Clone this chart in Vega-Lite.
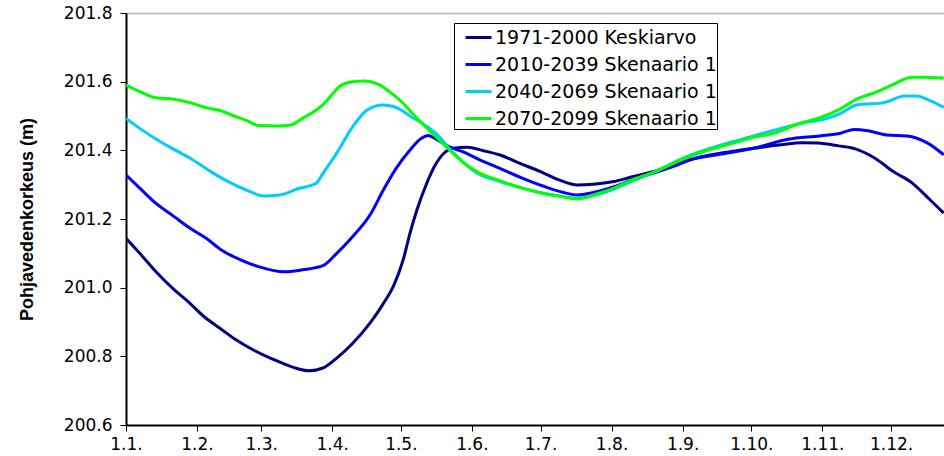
{
  "$schema": "https://vega.github.io/schema/vega-lite/v6.json",
  "width": 818,
  "height": 412,
  "autosize": {"type": "none"},
  "padding": {"left": 126, "top": 13, "right": 0, "bottom": 31},
  "background": "white",
  "config": {"view": {"stroke": null}},
  "data": {"values": [
    {"s":"1971-2000 Keskiarvo","d":"2001-01-01","v":201.144},
    {"s":"1971-2000 Keskiarvo","d":"2001-01-07","v":201.100},
    {"s":"1971-2000 Keskiarvo","d":"2001-01-14","v":201.047},
    {"s":"1971-2000 Keskiarvo","d":"2001-01-22","v":200.994},
    {"s":"1971-2000 Keskiarvo","d":"2001-01-28","v":200.960},
    {"s":"1971-2000 Keskiarvo","d":"2001-02-04","v":200.916},
    {"s":"1971-2000 Keskiarvo","d":"2001-02-11","v":200.882},
    {"s":"1971-2000 Keskiarvo","d":"2001-02-18","v":200.848},
    {"s":"1971-2000 Keskiarvo","d":"2001-02-26","v":200.817},
    {"s":"1971-2000 Keskiarvo","d":"2001-03-06","v":200.792},
    {"s":"1971-2000 Keskiarvo","d":"2001-03-15","v":200.768},
    {"s":"1971-2000 Keskiarvo","d":"2001-03-22","v":200.758},
    {"s":"1971-2000 Keskiarvo","d":"2001-03-28","v":200.766},
    {"s":"1971-2000 Keskiarvo","d":"2001-04-03","v":200.795},
    {"s":"1971-2000 Keskiarvo","d":"2001-04-10","v":200.838},
    {"s":"1971-2000 Keskiarvo","d":"2001-04-18","v":200.901},
    {"s":"1971-2000 Keskiarvo","d":"2001-04-23","v":200.950},
    {"s":"1971-2000 Keskiarvo","d":"2001-04-28","v":201.008},
    {"s":"1971-2000 Keskiarvo","d":"2001-05-02","v":201.081},
    {"s":"1971-2000 Keskiarvo","d":"2001-05-05","v":201.159},
    {"s":"1971-2000 Keskiarvo","d":"2001-05-08","v":201.226},
    {"s":"1971-2000 Keskiarvo","d":"2001-05-12","v":201.299},
    {"s":"1971-2000 Keskiarvo","d":"2001-05-16","v":201.357},
    {"s":"1971-2000 Keskiarvo","d":"2001-05-20","v":201.393},
    {"s":"1971-2000 Keskiarvo","d":"2001-05-24","v":201.406},
    {"s":"1971-2000 Keskiarvo","d":"2001-05-30","v":201.409},
    {"s":"1971-2000 Keskiarvo","d":"2001-06-06","v":201.399},
    {"s":"1971-2000 Keskiarvo","d":"2001-06-13","v":201.387},
    {"s":"1971-2000 Keskiarvo","d":"2001-06-22","v":201.362},
    {"s":"1971-2000 Keskiarvo","d":"2001-07-01","v":201.338},
    {"s":"1971-2000 Keskiarvo","d":"2001-07-09","v":201.314},
    {"s":"1971-2000 Keskiarvo","d":"2001-07-17","v":201.299},
    {"s":"1971-2000 Keskiarvo","d":"2001-07-24","v":201.301},
    {"s":"1971-2000 Keskiarvo","d":"2001-08-02","v":201.309},
    {"s":"1971-2000 Keskiarvo","d":"2001-08-10","v":201.323},
    {"s":"1971-2000 Keskiarvo","d":"2001-08-19","v":201.338},
    {"s":"1971-2000 Keskiarvo","d":"2001-08-28","v":201.355},
    {"s":"1971-2000 Keskiarvo","d":"2001-09-04","v":201.372},
    {"s":"1971-2000 Keskiarvo","d":"2001-09-18","v":201.392},
    {"s":"1971-2000 Keskiarvo","d":"2001-10-02","v":201.406},
    {"s":"1971-2000 Keskiarvo","d":"2001-10-14","v":201.416},
    {"s":"1971-2000 Keskiarvo","d":"2001-10-23","v":201.422},
    {"s":"1971-2000 Keskiarvo","d":"2001-10-30","v":201.421},
    {"s":"1971-2000 Keskiarvo","d":"2001-11-08","v":201.413},
    {"s":"1971-2000 Keskiarvo","d":"2001-11-16","v":201.403},
    {"s":"1971-2000 Keskiarvo","d":"2001-11-24","v":201.377},
    {"s":"1971-2000 Keskiarvo","d":"2001-12-02","v":201.338},
    {"s":"1971-2000 Keskiarvo","d":"2001-12-10","v":201.306},
    {"s":"1971-2000 Keskiarvo","d":"2001-12-18","v":201.256},
    {"s":"1971-2000 Keskiarvo","d":"2001-12-24","v":201.217},

    {"s":"2010-2039 Skenaario 1","d":"2001-01-01","v":201.328},
    {"s":"2010-2039 Skenaario 1","d":"2001-01-07","v":201.290},
    {"s":"2010-2039 Skenaario 1","d":"2001-01-14","v":201.246},
    {"s":"2010-2039 Skenaario 1","d":"2001-01-22","v":201.207},
    {"s":"2010-2039 Skenaario 1","d":"2001-01-29","v":201.173},
    {"s":"2010-2039 Skenaario 1","d":"2001-02-05","v":201.144},
    {"s":"2010-2039 Skenaario 1","d":"2001-02-12","v":201.108},
    {"s":"2010-2039 Skenaario 1","d":"2001-02-20","v":201.081},
    {"s":"2010-2039 Skenaario 1","d":"2001-02-28","v":201.061},
    {"s":"2010-2039 Skenaario 1","d":"2001-03-11","v":201.046},
    {"s":"2010-2039 Skenaario 1","d":"2001-03-19","v":201.052},
    {"s":"2010-2039 Skenaario 1","d":"2001-03-28","v":201.064},
    {"s":"2010-2039 Skenaario 1","d":"2001-04-03","v":201.100},
    {"s":"2010-2039 Skenaario 1","d":"2001-04-10","v":201.149},
    {"s":"2010-2039 Skenaario 1","d":"2001-04-18","v":201.217},
    {"s":"2010-2039 Skenaario 1","d":"2001-04-23","v":201.280},
    {"s":"2010-2039 Skenaario 1","d":"2001-04-29","v":201.348},
    {"s":"2010-2039 Skenaario 1","d":"2001-05-05","v":201.401},
    {"s":"2010-2039 Skenaario 1","d":"2001-05-10","v":201.435},
    {"s":"2010-2039 Skenaario 1","d":"2001-05-13","v":201.443},
    {"s":"2010-2039 Skenaario 1","d":"2001-05-17","v":201.430},
    {"s":"2010-2039 Skenaario 1","d":"2001-05-22","v":201.411},
    {"s":"2010-2039 Skenaario 1","d":"2001-05-28","v":201.396},
    {"s":"2010-2039 Skenaario 1","d":"2001-06-04","v":201.374},
    {"s":"2010-2039 Skenaario 1","d":"2001-06-13","v":201.348},
    {"s":"2010-2039 Skenaario 1","d":"2001-06-23","v":201.319},
    {"s":"2010-2039 Skenaario 1","d":"2001-07-02","v":201.296},
    {"s":"2010-2039 Skenaario 1","d":"2001-07-11","v":201.277},
    {"s":"2010-2039 Skenaario 1","d":"2001-07-17","v":201.270},
    {"s":"2010-2039 Skenaario 1","d":"2001-07-24","v":201.277},
    {"s":"2010-2039 Skenaario 1","d":"2001-08-02","v":201.294},
    {"s":"2010-2039 Skenaario 1","d":"2001-08-10","v":201.314},
    {"s":"2010-2039 Skenaario 1","d":"2001-08-19","v":201.333},
    {"s":"2010-2039 Skenaario 1","d":"2001-08-28","v":201.353},
    {"s":"2010-2039 Skenaario 1","d":"2001-09-04","v":201.372},
    {"s":"2010-2039 Skenaario 1","d":"2001-09-18","v":201.389},
    {"s":"2010-2039 Skenaario 1","d":"2001-10-02","v":201.406},
    {"s":"2010-2039 Skenaario 1","d":"2001-10-17","v":201.432},
    {"s":"2010-2039 Skenaario 1","d":"2001-10-31","v":201.442},
    {"s":"2010-2039 Skenaario 1","d":"2001-11-09","v":201.450},
    {"s":"2010-2039 Skenaario 1","d":"2001-11-15","v":201.461},
    {"s":"2010-2039 Skenaario 1","d":"2001-11-21","v":201.457},
    {"s":"2010-2039 Skenaario 1","d":"2001-11-29","v":201.445},
    {"s":"2010-2039 Skenaario 1","d":"2001-12-08","v":201.442},
    {"s":"2010-2039 Skenaario 1","d":"2001-12-17","v":201.421},
    {"s":"2010-2039 Skenaario 1","d":"2001-12-24","v":201.387},

    {"s":"2040-2069 Skenaario 1","d":"2001-01-01","v":201.493},
    {"s":"2040-2069 Skenaario 1","d":"2001-01-07","v":201.464},
    {"s":"2040-2069 Skenaario 1","d":"2001-01-16","v":201.425},
    {"s":"2040-2069 Skenaario 1","d":"2001-01-23","v":201.399},
    {"s":"2040-2069 Skenaario 1","d":"2001-01-29","v":201.377},
    {"s":"2040-2069 Skenaario 1","d":"2001-02-07","v":201.338},
    {"s":"2040-2069 Skenaario 1","d":"2001-02-14","v":201.311},
    {"s":"2040-2069 Skenaario 1","d":"2001-02-23","v":201.283},
    {"s":"2040-2069 Skenaario 1","d":"2001-03-02","v":201.267},
    {"s":"2040-2069 Skenaario 1","d":"2001-03-09","v":201.270},
    {"s":"2040-2069 Skenaario 1","d":"2001-03-17","v":201.288},
    {"s":"2040-2069 Skenaario 1","d":"2001-03-25","v":201.304},
    {"s":"2040-2069 Skenaario 1","d":"2001-03-28","v":201.333},
    {"s":"2040-2069 Skenaario 1","d":"2001-04-03","v":201.392},
    {"s":"2040-2069 Skenaario 1","d":"2001-04-10","v":201.469},
    {"s":"2040-2069 Skenaario 1","d":"2001-04-16","v":201.516},
    {"s":"2040-2069 Skenaario 1","d":"2001-04-23","v":201.532},
    {"s":"2040-2069 Skenaario 1","d":"2001-04-28","v":201.527},
    {"s":"2040-2069 Skenaario 1","d":"2001-05-01","v":201.518},
    {"s":"2040-2069 Skenaario 1","d":"2001-05-05","v":201.500},
    {"s":"2040-2069 Skenaario 1","d":"2001-05-09","v":201.484},
    {"s":"2040-2069 Skenaario 1","d":"2001-05-17","v":201.445},
    {"s":"2040-2069 Skenaario 1","d":"2001-05-22","v":201.406},
    {"s":"2040-2069 Skenaario 1","d":"2001-06-03","v":201.335},
    {"s":"2040-2069 Skenaario 1","d":"2001-06-13","v":201.310},
    {"s":"2040-2069 Skenaario 1","d":"2001-06-23","v":201.290},
    {"s":"2040-2069 Skenaario 1","d":"2001-07-02","v":201.275},
    {"s":"2040-2069 Skenaario 1","d":"2001-07-11","v":201.265},
    {"s":"2040-2069 Skenaario 1","d":"2001-07-17","v":201.260},
    {"s":"2040-2069 Skenaario 1","d":"2001-07-24","v":201.268},
    {"s":"2040-2069 Skenaario 1","d":"2001-08-02","v":201.287},
    {"s":"2040-2069 Skenaario 1","d":"2001-08-10","v":201.310},
    {"s":"2040-2069 Skenaario 1","d":"2001-08-19","v":201.335},
    {"s":"2040-2069 Skenaario 1","d":"2001-09-03","v":201.382},
    {"s":"2040-2069 Skenaario 1","d":"2001-09-18","v":201.416},
    {"s":"2040-2069 Skenaario 1","d":"2001-10-02","v":201.442},
    {"s":"2040-2069 Skenaario 1","d":"2001-10-14","v":201.464},
    {"s":"2040-2069 Skenaario 1","d":"2001-10-23","v":201.479},
    {"s":"2040-2069 Skenaario 1","d":"2001-11-02","v":201.491},
    {"s":"2040-2069 Skenaario 1","d":"2001-11-09","v":201.508},
    {"s":"2040-2069 Skenaario 1","d":"2001-11-16","v":201.532},
    {"s":"2040-2069 Skenaario 1","d":"2001-11-28","v":201.539},
    {"s":"2040-2069 Skenaario 1","d":"2001-12-07","v":201.558},
    {"s":"2040-2069 Skenaario 1","d":"2001-12-12","v":201.558},
    {"s":"2040-2069 Skenaario 1","d":"2001-12-18","v":201.545},
    {"s":"2040-2069 Skenaario 1","d":"2001-12-24","v":201.525},

    {"s":"2070-2099 Skenaario 1","d":"2001-01-01","v":201.590},
    {"s":"2070-2099 Skenaario 1","d":"2001-01-07","v":201.571},
    {"s":"2070-2099 Skenaario 1","d":"2001-01-14","v":201.553},
    {"s":"2070-2099 Skenaario 1","d":"2001-01-22","v":201.549},
    {"s":"2070-2099 Skenaario 1","d":"2001-01-29","v":201.539},
    {"s":"2070-2099 Skenaario 1","d":"2001-02-05","v":201.524},
    {"s":"2070-2099 Skenaario 1","d":"2001-02-11","v":201.516},
    {"s":"2070-2099 Skenaario 1","d":"2001-02-18","v":201.498},
    {"s":"2070-2099 Skenaario 1","d":"2001-02-23","v":201.486},
    {"s":"2070-2099 Skenaario 1","d":"2001-02-28","v":201.472},
    {"s":"2070-2099 Skenaario 1","d":"2001-03-08","v":201.471},
    {"s":"2070-2099 Skenaario 1","d":"2001-03-14","v":201.474},
    {"s":"2070-2099 Skenaario 1","d":"2001-03-19","v":201.493},
    {"s":"2070-2099 Skenaario 1","d":"2001-03-27","v":201.527},
    {"s":"2070-2099 Skenaario 1","d":"2001-03-30","v":201.547},
    {"s":"2070-2099 Skenaario 1","d":"2001-04-05","v":201.590},
    {"s":"2070-2099 Skenaario 1","d":"2001-04-10","v":201.600},
    {"s":"2070-2099 Skenaario 1","d":"2001-04-15","v":201.602},
    {"s":"2070-2099 Skenaario 1","d":"2001-04-21","v":201.593},
    {"s":"2070-2099 Skenaario 1","d":"2001-04-26","v":201.571},
    {"s":"2070-2099 Skenaario 1","d":"2001-05-02","v":201.537},
    {"s":"2070-2099 Skenaario 1","d":"2001-05-06","v":201.508},
    {"s":"2070-2099 Skenaario 1","d":"2001-05-14","v":201.454},
    {"s":"2070-2099 Skenaario 1","d":"2001-05-20","v":201.416},
    {"s":"2070-2099 Skenaario 1","d":"2001-05-27","v":201.372},
    {"s":"2070-2099 Skenaario 1","d":"2001-06-03","v":201.338},
    {"s":"2070-2099 Skenaario 1","d":"2001-06-13","v":201.312},
    {"s":"2070-2099 Skenaario 1","d":"2001-06-23","v":201.290},
    {"s":"2070-2099 Skenaario 1","d":"2001-07-02","v":201.275},
    {"s":"2070-2099 Skenaario 1","d":"2001-07-11","v":201.265},
    {"s":"2070-2099 Skenaario 1","d":"2001-07-17","v":201.258},
    {"s":"2070-2099 Skenaario 1","d":"2001-07-24","v":201.270},
    {"s":"2070-2099 Skenaario 1","d":"2001-08-02","v":201.290},
    {"s":"2070-2099 Skenaario 1","d":"2001-08-10","v":201.314},
    {"s":"2070-2099 Skenaario 1","d":"2001-08-19","v":201.335},
    {"s":"2070-2099 Skenaario 1","d":"2001-09-02","v":201.377},
    {"s":"2070-2099 Skenaario 1","d":"2001-09-10","v":201.396},
    {"s":"2070-2099 Skenaario 1","d":"2001-09-22","v":201.419},
    {"s":"2070-2099 Skenaario 1","d":"2001-10-02","v":201.438},
    {"s":"2070-2099 Skenaario 1","d":"2001-10-11","v":201.450},
    {"s":"2070-2099 Skenaario 1","d":"2001-10-21","v":201.476},
    {"s":"2070-2099 Skenaario 1","d":"2001-10-31","v":201.495},
    {"s":"2070-2099 Skenaario 1","d":"2001-11-08","v":201.518},
    {"s":"2070-2099 Skenaario 1","d":"2001-11-16","v":201.549},
    {"s":"2070-2099 Skenaario 1","d":"2001-11-25","v":201.571},
    {"s":"2070-2099 Skenaario 1","d":"2001-12-02","v":201.592},
    {"s":"2070-2099 Skenaario 1","d":"2001-12-10","v":201.613},
    {"s":"2070-2099 Skenaario 1","d":"2001-12-15","v":201.613},
    {"s":"2070-2099 Skenaario 1","d":"2001-12-24","v":201.610}
  ]},
  "mark": {"type": "line", "strokeWidth": 3, "interpolate": "monotone", "clip": true},
  "encoding": {
    "x": {
      "field": "d", "type": "temporal",
      "scale": {"type": "utc", "domain": [
        {"year": 2001, "month": 1, "date": 1, "utc": true},
        {"year": 2001, "month": 12, "date": 24, "hours": 3, "utc": true}
      ]},
      "axis": {
        "title": null,
        "values": [
          {"year": 2001, "month": 1, "date": 1, "utc": true},
          {"year": 2001, "month": 2, "date": 1, "utc": true},
          {"year": 2001, "month": 3, "date": 1, "utc": true},
          {"year": 2001, "month": 4, "date": 1, "utc": true},
          {"year": 2001, "month": 5, "date": 1, "utc": true},
          {"year": 2001, "month": 6, "date": 1, "utc": true},
          {"year": 2001, "month": 7, "date": 1, "utc": true},
          {"year": 2001, "month": 8, "date": 1, "utc": true},
          {"year": 2001, "month": 9, "date": 1, "utc": true},
          {"year": 2001, "month": 10, "date": 1, "utc": true},
          {"year": 2001, "month": 11, "date": 1, "utc": true},
          {"year": 2001, "month": 12, "date": 1, "utc": true}
        ],
        "labelExpr": "utcFormat(datum.value, '%-d.%-m.')",
        "labelFont": "DejaVu Sans",
        "labelFontSize": 17,
        "labelColor": "black",
        "labelPadding": 5,
        "labelFlush": false,
        "labelOverlap": false,
        "tickSize": 6,
        "tickColor": "black",
        "domainColor": "black",
        "domainWidth": 2,
        "grid": false
      }
    },
    "y": {
      "field": "v", "type": "quantitative",
      "scale": {"domain": [200.6, 201.8], "nice": false, "zero": false},
      "axis": {
        "title": "Pohjavedenkorkeus (m)",
        "titleFont": "Liberation Sans",
        "titleFontSize": 18,
        "titleFontWeight": "bold",
        "titleColor": "black",
        "titleX": -99,
        "titleY": 206,
        "titleBaseline": "middle",
        "values": [200.6, 200.8, 201.0, 201.2, 201.4, 201.6, 201.8],
        "format": ".1f",
        "labelFont": "DejaVu Sans",
        "labelFontSize": 17,
        "labelColor": "black",
        "labelPadding": 8,
        "tickSize": 6,
        "tickColor": "black",
        "domainColor": "black",
        "domainWidth": 2,
        "grid": true,
        "gridColor": "#B4B4B4",
        "gridWidth": 1.5,
        "gridOpacity": {"condition": {"test": "datum.value > 201.79", "value": 1}, "value": 0}
      }
    },
    "color": {
      "field": "s", "type": "nominal",
      "scale": {
        "domain": ["1971-2000 Keskiarvo", "2010-2039 Skenaario 1", "2040-2069 Skenaario 1", "2070-2099 Skenaario 1"],
        "range": ["#000080", "#0000FF", "#00CCFF", "#00FF00"]
      },
      "legend": {
        "orient": "none",
        "legendX": 328,
        "legendY": 10,
        "title": null,
        "strokeColor": "black",
        "fillColor": "white",
        "padding": 0,
        "symbolType": "stroke",
        "symbolStrokeWidth": 3,
        "symbolSize": 676,
        "symbolOffset": 10,
        "labelFont": "DejaVu Sans",
        "labelFontSize": 19,
        "labelColor": "black",
        "labelOffset": 2,
        "labelLimit": 400,
        "rowPadding": 2
      }
    }
  }
}
